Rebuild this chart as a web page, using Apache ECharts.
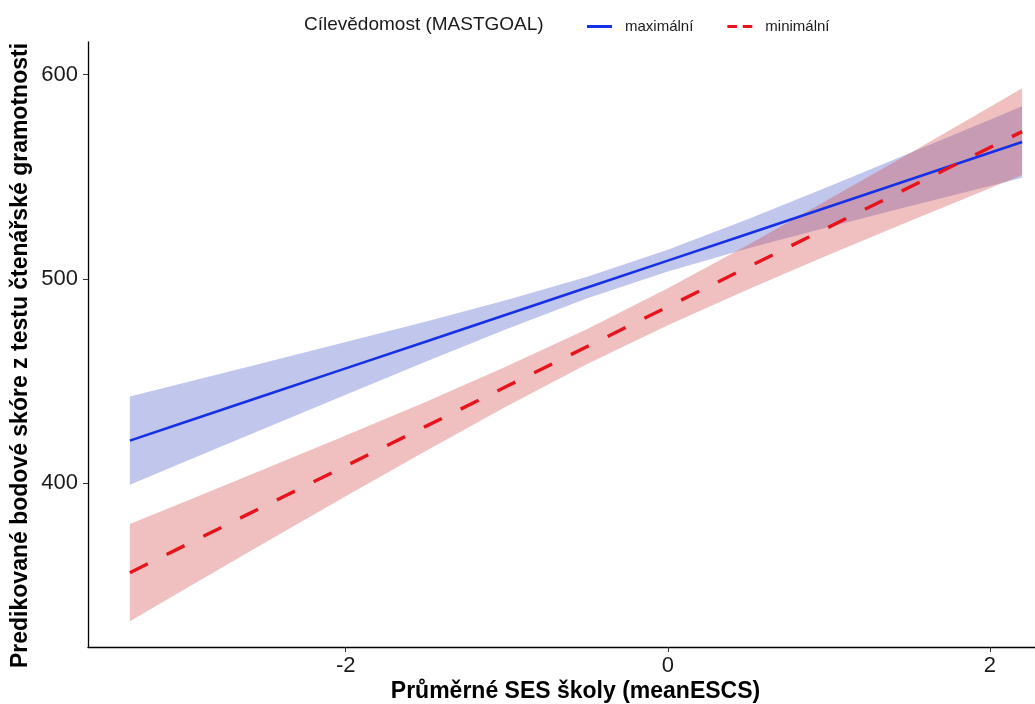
<!DOCTYPE html>
<html>
<head>
<meta charset="utf-8">
<script src="https://cdn.jsdelivr.net/npm/echarts@6/dist/echarts.min.js"></script>
<style>
html,body{margin:0;padding:0;background:#fff;}
#chart{width:1035px;height:704px;}
</style>
</head>
<body>
<div id="chart"></div>
<script>
// x values (meanESCS)
const xVals = [-3.34, -3, -2.5, -2, -1.5, -1, -0.5, 0, 0.5, 1, 1.5, 2, 2.2];
// MASTGOAL = maximální
const maxFit   = [420.7, 429.7, 442.9, 456.1, 469.3, 482.5, 495.7, 508.9, 522.1, 535.3, 548.5, 561.7, 567.0];
const maxLower = [399.1, 410.4, 426.8, 443.2, 459.5, 475.4, 490.4, 503.6, 514.9, 525.4, 535.5, 545.5, 549.5];
const maxUpper = [442.3, 449.1, 459.0, 469.0, 479.1, 489.6, 501.0, 514.2, 529.3, 545.2, 561.5, 577.9, 584.5];
// MASTGOAL = minimální
const minFit   = [356.0, 369.3, 388.8, 408.3, 427.8, 447.3, 466.8, 486.3, 505.8, 525.3, 544.8, 564.3, 572.1];
const minLower = [332.2, 347.9, 370.8, 393.5, 415.8, 437.6, 458.2, 477.2, 494.9, 511.8, 528.2, 544.4, 550.8];
const minUpper = [379.8, 390.7, 406.9, 423.2, 439.8, 457.1, 475.4, 495.4, 516.7, 538.9, 561.4, 584.2, 593.4];
// axis ticks
const xTicks = [-2, 0, 2];
const yTicks = [400, 500, 600];

const zip = (a, b) => a.map((v, i) => [v, b[i]]);
const bandData = (lo, up) => xVals.map((x, i) => [x, lo[i], up[i]]);

function bandSeries(lo, up, fill) {
  return {
    type: 'custom',
    data: bandData(lo, up),
    encode: { x: 0, y: [1, 2] },
    silent: true,
    z: 1,
    renderItem: function (params, api) {
      if (params.dataIndex !== 0) return null;
      const pts = [];
      for (let i = 0; i < xVals.length; i++) pts.push(api.coord([xVals[i], lo[i]]));
      for (let i = xVals.length - 1; i >= 0; i--) pts.push(api.coord([xVals[i], up[i]]));
      return {
        type: 'polygon',
        shape: { points: pts },
        style: { fill: fill, stroke: null }
      };
    }
  };
}

const chart = echarts.init(document.getElementById('chart'), null, { renderer: 'canvas' });
chart.setOption({
  backgroundColor: '#ffffff',
  animation: false,
  title: {
    text: 'Cílevědomost (MASTGOAL)',
    left: 299, top: 10,
    textStyle: { fontFamily: 'Liberation Sans', fontSize: 19, fontWeight: 'normal', color: '#1a1a1a' }
  },
  legend: {
    data: [
      { name: 'maximální', icon: 'path://M0,0h25v3h-25z', itemStyle: { color: '#1530e6' } },
      { name: 'minimální', icon: 'path://M0,0h10v3h-10zM16,0h10v3h-10z', itemStyle: { color: '#e8141c' } }
    ],
    left: 582, top: 14,
    itemWidth: 25, itemHeight: 3, itemGap: 34,
    textStyle: { fontFamily: 'Liberation Sans', fontSize: 15, color: '#1a1a1a', padding: [0, 0, 0, 8] }
  },
  grid: { left: 88, right: 0, top: 42, bottom: 57, containLabel: false, outerBoundsMode: 'none' },
  xAxis: {
    type: 'value',
    min: -3.6, max: 2.28,
    name: 'Průměrné SES školy (meanESCS)',
    nameLocation: 'middle', nameGap: 33, nameMoveOverlap: false,
    nameTextStyle: { fontFamily: 'Liberation Sans', fontSize: 23, fontWeight: 'bold', color: '#000', padding: [0, 0, 0, 28] },
    axisLine: { show: true, onZero: false, lineStyle: { color: '#000', width: 1.3 } },
    axisTick: { show: true, length: 5, customValues: xTicks, lineStyle: { color: '#333' } },
    axisLabel: { customValues: xTicks, fontFamily: 'Liberation Sans', fontSize: 22, color: '#1a1a1a', margin: 8 },
    splitLine: { show: false }
  },
  yAxis: {
    type: 'value',
    min: 319.6, max: 616,
    name: 'Predikované bodové skóre z testu čtenářské gramotnosti',
    nameLocation: 'middle', nameGap: 56, nameRotate: 90, nameMoveOverlap: false,
    nameTextStyle: { fontFamily: 'Liberation Sans', fontSize: 23, fontWeight: 'bold', color: '#000', padding: [0, 22, 0, 0] },
    axisLine: { show: true, onZero: false, lineStyle: { color: '#000', width: 1.3 } },
    axisTick: { show: true, length: 5, customValues: yTicks, lineStyle: { color: '#333' } },
    axisLabel: { customValues: yTicks, fontFamily: 'Liberation Sans', fontSize: 22, color: '#1a1a1a', margin: 10 },
    splitLine: { show: false }
  },
  series: [
    bandSeries(maxLower, maxUpper, 'rgba(75,92,201,0.35)'),
    bandSeries(minLower, minUpper, 'rgba(212,75,75,0.35)'),
    {
      name: 'maximální', type: 'line', data: zip(xVals, maxFit),
      symbol: 'none', showSymbol: false, z: 3,
      itemStyle: { color: '#1530e6' },
      lineStyle: { color: '#1530e6', width: 2.6, type: 'solid' }
    },
    {
      name: 'minimální', type: 'line', data: zip(xVals, minFit),
      symbol: 'none', showSymbol: false, z: 4,
      itemStyle: { color: '#e8141c' },
      lineStyle: { color: '#e8141c', width: 3.4, type: [20, 21] }
    }
  ]
});
</script>
</body>
</html>
